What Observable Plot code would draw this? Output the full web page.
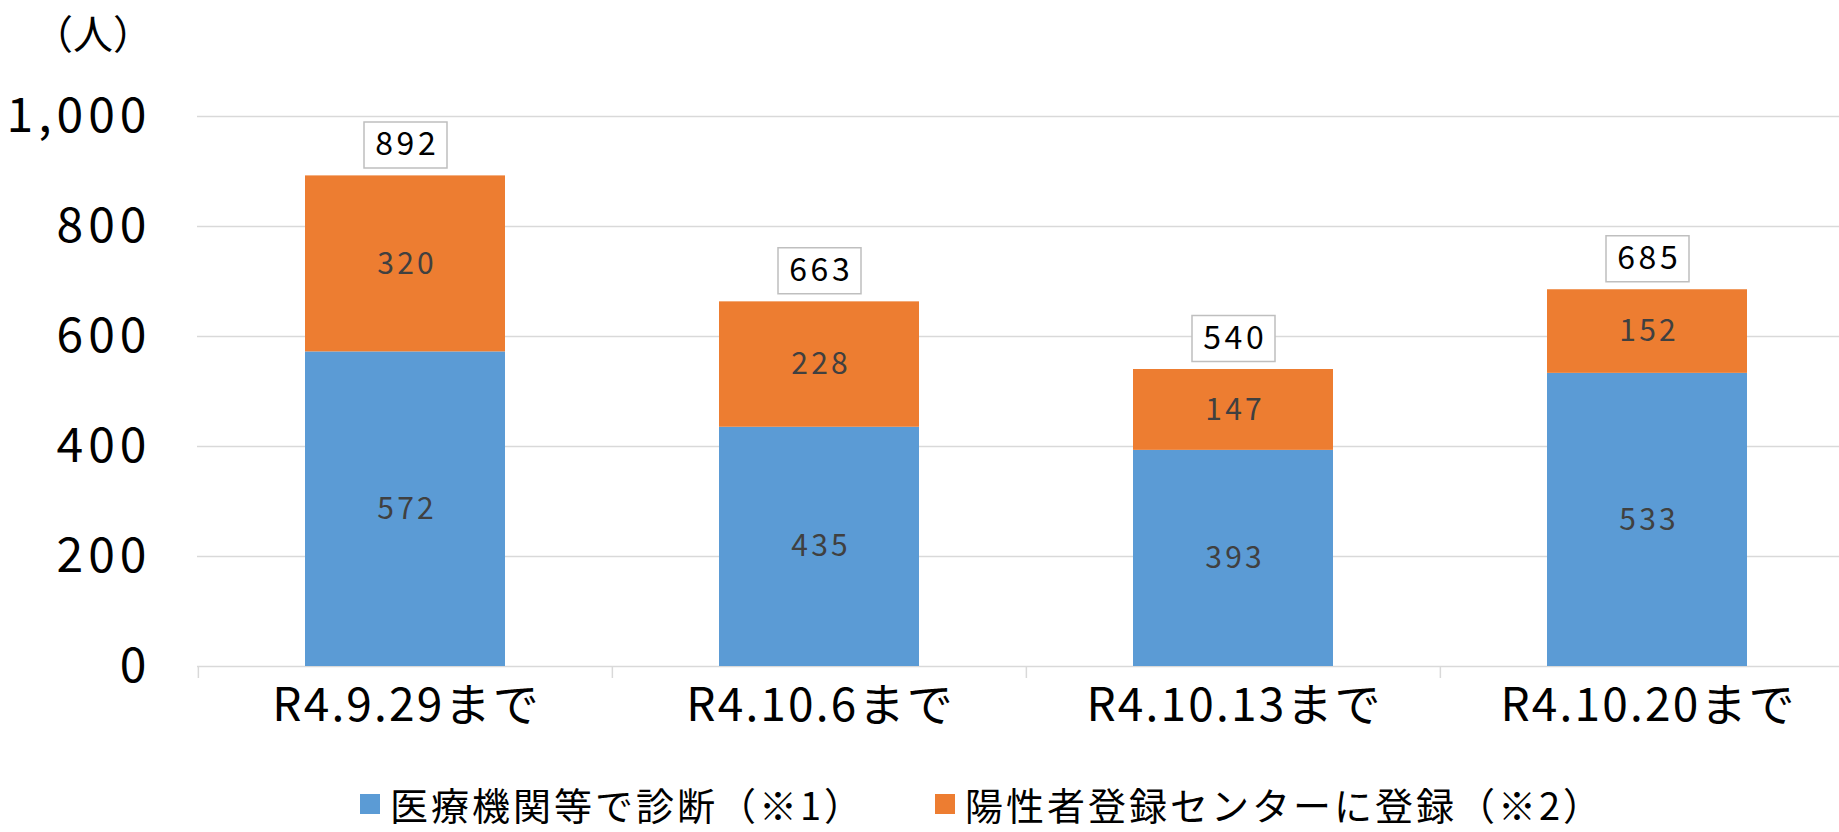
<!DOCTYPE html>
<html>
<head>
<meta charset="utf-8">
<script src="https://cdn.jsdelivr.net/npm/d3@7"></script>
<script src="https://cdn.jsdelivr.net/npm/@observablehq/plot@0.6"></script>
<style>
  html, body { margin: 0; padding: 0; background: #fff; overflow: hidden; }
  #wrap { position: relative; width: 1839px; height: 832px; font-family: "Noto Sans CJK JP", "Noto Sans", sans-serif; }
  #unit { position: absolute; left: 33px; top: 12px; font-size: 40px; line-height: 1; color: #000; }
  #legend { position: absolute; top: 784px; left: 0; width: 1839px; height: 40px; }
  .item { position: absolute; top: 0; height: 40px; display: flex; align-items: center; font-size: 38px; line-height: 1; color: #000; white-space: nowrap; }
  .sw { width: 20px; height: 20px; margin-right: 10px; flex: none; }
  svg { display: block; }
</style>
</head>
<body>
<div id="wrap">
  <div id="chart"></div>
  <div id="unit">（人）</div>
  <div id="legend"></div>
</div>
<script>
const categories = ["R4.9.29まで", "R4.10.6まで", "R4.10.13まで", "R4.10.20まで"];
const seriesNames = ["医療機関等で診断（※1）", "陽性者登録センターに登録（※2）"];
const medical = [572, 435, 393, 533];
const registered = [320, 228, 147, 152];
const totals = [892, 663, 540, 685];
const yTicks = [0, 200, 400, 600, 800, 1000];
const colors = ["#5B9BD5", "#ED7D31"];

const W = 1839, H = 770, ML = 197, MR = -15, MT = 116, MB = 104;
const step = (W - ML - MR) / categories.length;

const rows = [];
categories.forEach((c, i) => {
  const vals = [medical[i], registered[i]];
  let base = 0;
  vals.forEach((v, k) => {
    rows.push({cat: c, series: seriesNames[k], value: v, lo: base, hi: base + v, mid: base + v / 2});
    base += v;
  });
});
const totalRows = categories.map((c, i) => ({cat: c, total: totals[i]}));

const boxSymbol = { draw(ctx) { ctx.rect(-41.5, -23, 83, 46); } };
const fmt = d3.format(",");

// letter spacings (px) per text group, keyed by font size
const sp = { inner: 3.2, total: 3.5, ytick: 5, xtick: 2.2 };

const chart = Plot.plot({
  width: W, height: H,
  marginLeft: ML, marginRight: MR, marginTop: MT, marginBottom: MB,
  style: { fontFamily: "'Noto Sans CJK JP', 'Noto Sans', sans-serif", background: "#fff", overflow: "visible" },
  x: { domain: categories, paddingInner: 0.517, paddingOuter: 0.2585, axis: null },
  y: { domain: [0, 1000], axis: null },
  color: { domain: seriesNames, range: colors },
  marks: [
    Plot.ruleY(yTicks, { y: d => d, stroke: "#d9d9d9", strokeWidth: 1.5 }),
    Plot.ruleX(categories, { x: d => d, y1: 0, y2: 0, insetBottom: -12, dx: -step / 2, stroke: "#d9d9d9", strokeWidth: 1.5 }),
    Plot.barY(rows, { x: "cat", y1: "lo", y2: "hi", fill: "series" }),
    Plot.text(rows, { x: "cat", y: "mid", dx: sp.inner / 2, text: d => String(d.value), fontSize: 30, fill: "#404040" }),
    Plot.dot(totalRows, { x: "cat", y: "total", dy: -31, symbol: boxSymbol, r: 1, fill: "#fff", stroke: "#bfbfbf", strokeWidth: 1.5 }),
    Plot.text(totalRows, { x: "cat", y: "total", dy: -31, dx: sp.total / 2, text: d => String(d.total), fontSize: 32, fill: "#000" }),
    Plot.text(yTicks, { y: d => d, frameAnchor: "left", dx: -51 + sp.ytick, textAnchor: "end", text: d => fmt(d), fontSize: 48, fill: "#000" }),
    Plot.text(categories, { x: d => d, frameAnchor: "bottom", dy: 54, dx: sp.xtick / 2, text: d => d, fontSize: 46, fill: "#000" })
  ]
});
const bySize = { "30": sp.inner, "32": sp.total, "48": sp.ytick, "46": sp.xtick };
Object.entries(bySize).forEach(([k, v]) => {
  d3.select(chart).selectAll(`g[font-size="${k}"] text`).style("letter-spacing", v + "px");
});
document.getElementById("chart").appendChild(chart);

const legend = document.getElementById("legend");
const legendX = [360, 935];
seriesNames.forEach((s, k) => {
  const it = document.createElement("div");
  it.className = "item";
  it.style.left = legendX[k] + "px";
  const sw = document.createElement("span");
  sw.className = "sw";
  sw.style.background = colors[k];
  it.appendChild(sw);
  const t = document.createElement("span");
  t.textContent = s;
  t.style.letterSpacing = "3px";
  it.appendChild(t);
  legend.appendChild(it);
});
</script>
</body>
</html>
